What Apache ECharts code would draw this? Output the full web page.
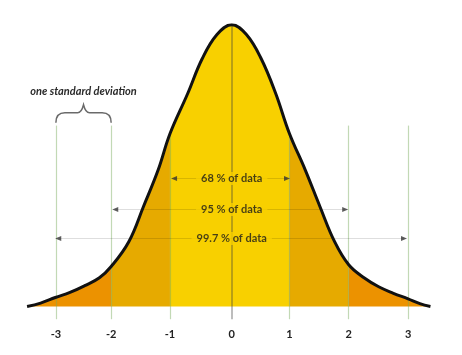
<!DOCTYPE html>
<html><head><meta charset="utf-8">
<script src="https://cdn.jsdelivr.net/npm/echarts@6/dist/echarts.min.js"></script>
<style>html,body{margin:0;padding:0;background:#fff}#c{width:462px;height:355px}</style>
</head><body><div id="c"></div><script>
// Curve (x in standard-deviation units of the drawing, y relative to peak)
const curveX = [-3.48,-3.25,-3,-2.75,-2.5,-2.25,-2.05,-1.75,-1.5,-1.25,-1.05,-0.75,-0.5,-0.25,0,0.25,0.5,0.75,0.98,1.25,1.5,1.75,1.99,2.25,2.5,2.75,3,3.2,3.38];
const curveY = [0,0.012,0.032,0.05,0.074,0.102,0.142,0.23,0.355,0.485,0.613,0.755,0.88,0.965,1,0.965,0.88,0.755,0.615,0.485,0.355,0.23,0.148,0.102,0.07,0.047,0.027,0.01,0];
// Shaded bands
const bandEdges = [-3.48,-2.05,-1.05,0.98,1.99,3.38];
const bandColors = ['#EC9200','#E6AA00','#F8D000','#E6AA00','#EC9200'];
// Vertical guides (positions as drawn in the picture)
const guideX = [-2.99,-2.05,-1.05,0,0.98,1.99,3.0];
const guideTop = [0.642,0.642,0.613,1,0.615,0.642,0.642];
const guideBottom = -0.045;
// Arrow rows
const arrowLabels = ['68 % of data','95 % of data','99.7 % of data'];
const arrowY = [0.454,0.344,0.241];
const arrowLeft = [-0.98,-1.98,-2.95];
const arrowRight = [0.94,1.93,2.93];
// Tick labels (placed under the guides)
const tickLabels = ['-3','-2','-1','0','1','2','3'];
// Annotation
const braceFrom = -2.99, braceTo = -2.05, braceBase = 0.652;
const annotation = 'one standard deviation';

const curve = curveX.map((x,i)=>[x,curveY[i]]);
const series = [];
bandColors.forEach((c,i)=>{
  const a = bandEdges[i], b = bandEdges[i+1];
  series.push({type:'line', data: curve.filter(p=>p[0]>=a-1e-9 && p[0]<=b+1e-9),
    smooth:0.4, symbol:'none', lineStyle:{width:0}, areaStyle:{color:c, opacity:1, origin:0},
    z:2, silent:true, animation:false});
});
series.push({type:'line', data:[], z:3, silent:true, animation:false,
  markLine:{silent:true, symbol:'none', animation:false, label:{show:false},
    data: guideX.map((x,i)=>[
      {coord:[x,guideTop[i]], lineStyle:{color: x===0?'rgba(60,60,60,0.45)':'rgba(120,170,90,0.45)', width: x===0?1.5:1.2, type:'solid'}},
      {coord:[x,guideBottom]}
    ]).concat(arrowY.map((y,i)=>[
      {coord:[arrowLeft[i],y], lineStyle:{color:'rgba(0,0,0,0.13)', width:1, type:'solid'}},
      {coord:[arrowRight[i],y]}
    ]))
  }});
series.push({type:'line', data:curve, smooth:0.4, symbol:'none', z:5, silent:true, animation:false,
  lineStyle:{color:'#111', width:3}});
series.push({type:'scatter', z:6, silent:true, animation:false, symbol:'triangle', symbolSize:[5,6], symbolRotate:90,
  itemStyle:{color:'#333'}, data: arrowY.map((y,i)=>[arrowLeft[i],y])});
series.push({type:'scatter', z:6, silent:true, animation:false, symbol:'triangle', symbolSize:[5,6], symbolRotate:-90,
  itemStyle:{color:'#333'}, data: arrowY.map((y,i)=>[arrowRight[i],y])});
series.push({type:'scatter', z:7, silent:true, animation:false, symbolSize:1, itemStyle:{color:'rgba(0,0,0,0)'},
  data: arrowY.map((y,i)=>({value:[0,y], name:arrowLabels[i]})),
  label:{show:true, position:'inside', formatter:p=>p.name, fontFamily:'Lato', fontWeight:'bold', fontSize:11,
    color:'#1a1a1a', backgroundColor:'#F8D000', padding:[1,5]}});
series.push({type:'custom', z:6, silent:true, animation:false, data:[[braceFrom,braceTo,braceBase]],
  renderItem:(params, api)=>{
    const p1 = api.coord([api.value(0), api.value(2)]);
    const p2 = api.coord([api.value(1), api.value(2)]);
    const x1=p1[0], x2=p2[0], yb=p1[1], xm=(x1+x2)/2, h=10, t=18;
    const d = `M${x1},${yb} Q${x1},${yb-h} ${x1+9},${yb-h} L${xm-6},${yb-h} Q${xm-2},${yb-h} ${xm},${yb-t} Q${xm+2},${yb-h} ${xm+6},${yb-h} L${x2-9},${yb-h} Q${x2},${yb-h} ${x2},${yb}`;
    return {type:'group', children:[
      {type:'path', shape:{pathData:d}, style:{fill:'none', stroke:'#6a6a6a', lineWidth:1.5}},
      {type:'text', style:{text:annotation, x:xm, y:yb-31, align:'center', verticalAlign:'middle',
        font:'italic bold 11px Lato', fill:'#2a2a2a'}}
    ]};
  }});

const chart = echarts.init(document.getElementById('c'), null, {renderer:'canvas'});
chart.setOption({
  backgroundColor:'#fff',
  animation:false,
  grid:{left:25.9, right:24.5, top:24.7, bottom:35.8, containLabel:false, outerBoundsMode:'none'},
  xAxis:{type:'value', min:-3.5, max:3.5, interval:0.5,
    axisLine:{show:false}, axisTick:{show:false}, splitLine:{show:false},
    axisLabel:{margin:10, fontFamily:'Lato', fontWeight:'bold', fontSize:11, color:'#222',
      customValues: guideX,
      formatter:v=>{const k=guideX.findIndex(g=>Math.abs(g-v)<1e-6); return k>=0?tickLabels[k]:'';}}},
  yAxis:{type:'value', min:guideBottom, max:1, show:false},
  series
});
</script></body></html>
